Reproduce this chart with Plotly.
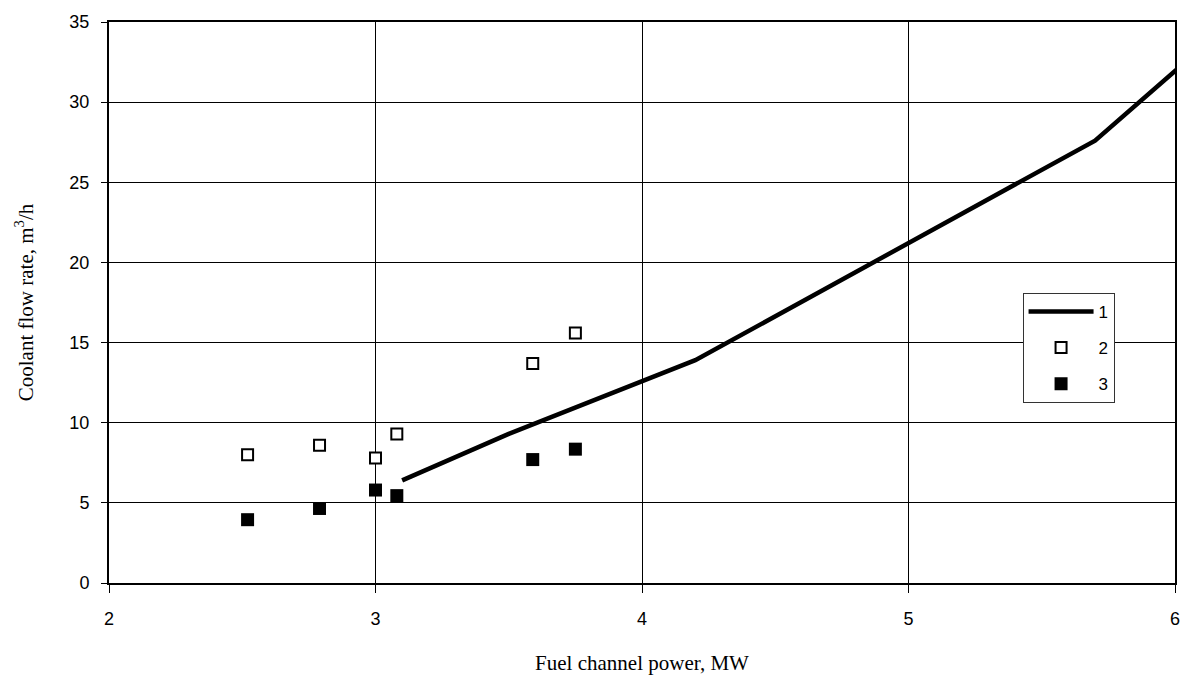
import plotly.graph_objects as go

# Calculated coolant flow rate vs. fuel channel power (curve 1)
calc_power = [3.1, 3.5, 4.2, 5.7, 6.1]
calc_flow = [6.4, 9.3, 13.9, 27.6, 33.4]

# Measured points: open squares (2) and filled squares (3)
meas_power = [2.52, 2.79, 3.0, 3.08, 3.59, 3.75]
flow_2 = [8.0, 8.6, 7.8, 9.3, 13.7, 15.6]
flow_3 = [3.95, 4.65, 5.8, 5.45, 7.7, 8.35]

x_ticks = [2, 3, 4, 5, 6]
y_ticks = [0, 5, 10, 15, 20, 25, 30, 35]

fig = go.Figure()
fig.add_trace(go.Scatter(
    x=calc_power, y=calc_flow, mode="lines", name="1",
    line=dict(color="black", width=4.5), legendgroup="a"))
fig.add_trace(go.Scatter(
    x=meas_power, y=flow_2, mode="markers", name="2",
    marker=dict(symbol="square", size=11, color="white",
                line=dict(color="black", width=2)), legendgroup="b"))
fig.add_trace(go.Scatter(
    x=meas_power, y=flow_3, mode="markers", name="3",
    marker=dict(symbol="square", size=13, color="black",
                line=dict(color="black", width=0)), legendgroup="c"))

tick_font = dict(family="Liberation Sans, Arial", size=18, color="black")
title_font = dict(family="Liberation Serif, Times New Roman", size=21, color="black")

fig.update_layout(
    width=1192, height=684,
    margin=dict(l=109, r=14, t=18, b=101),
    paper_bgcolor="white", plot_bgcolor="white",
    showlegend=True,
    legend=dict(
        x=0.857, y=0.517, xanchor="left", yanchor="top",
        bgcolor="white", bordercolor="#333333", borderwidth=1,
        font=dict(family="Liberation Sans, Arial", size=17, color="black"),
        tracegroupgap=11, itemwidth=65,
    ),
    xaxis=dict(
        range=[2, 6], tickvals=x_ticks, ticks="outside", ticklen=8,
        tickcolor="black", tickwidth=1, tickfont=tick_font,
        showgrid=True, gridcolor="black", gridwidth=1,
        showline=True, linecolor="black", linewidth=2, mirror=True,
        zeroline=False, ticklabelstandoff=10,
        title=dict(text="Fuel channel power, MW", font=title_font, standoff=28),
    ),
    yaxis=dict(
        range=[0, 35], tickvals=y_ticks, ticks="outside", ticklen=6,
        tickcolor="black", tickwidth=1, tickfont=tick_font,
        showgrid=True, gridcolor="black", gridwidth=1,
        showline=True, linecolor="black", linewidth=2, mirror=True,
        zeroline=False, ticklabelstandoff=8,
        title=dict(text="Coolant flow rate, m<sup>3</sup>/h", font=title_font, standoff=30),
    ),
)

fig.write_html("out.html")
